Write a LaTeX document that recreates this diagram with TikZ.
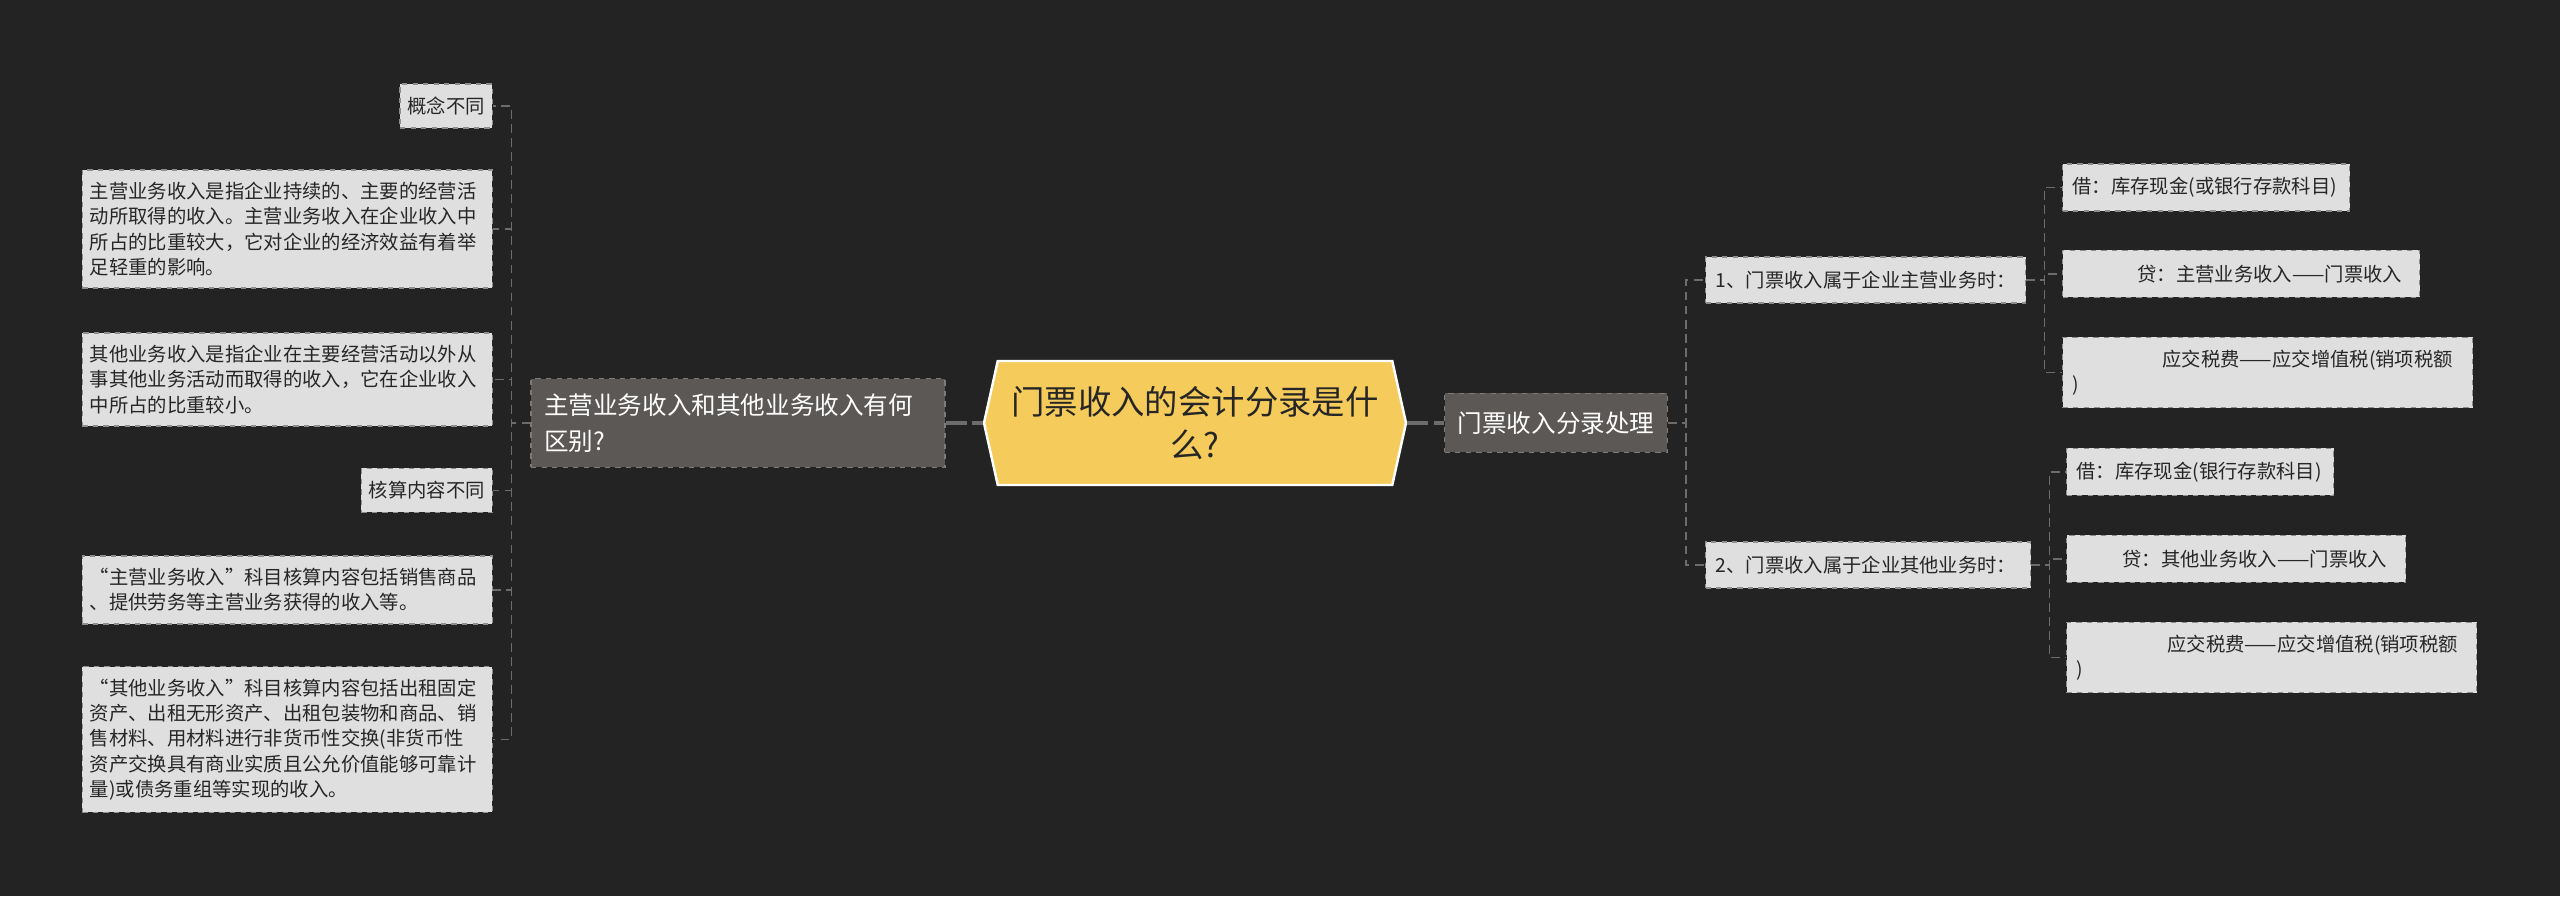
\documentclass[tikz,border=0pt]{standalone}
\usepackage{fontspec}
\setmainfont{Noto Sans CJK SC}
\usepackage{tikz}
\usetikzlibrary{positioning,shapes.symbols}
\definecolor{bgc}{HTML}{232323}
\definecolor{hexc}{HTML}{F5CB5C}
\definecolor{topicc}{HTML}{5B5856}
\definecolor{topicline}{HTML}{7E7B79}
\definecolor{leafc}{HTML}{DFDFDF}
\definecolor{leafline}{HTML}{8E8E8E}
\definecolor{linkc}{HTML}{6C6C6C}

\begin{document}
\begin{tikzpicture}[
  hexa/.style={signal, signal to=east and west, signal pointer angle=155,
    fill=hexc, draw=white, line width=1.4pt, minimum width=8.44cm,
    minimum height=2.48cm, inner sep=0pt, align=center, text=black!85,
    font=\fontsize{19}{24}\selectfont},
  topic/.style={draw=topicline, fill=topicc, dashed, line width=0.7pt,
    text=white, align=left, inner xsep=0.26cm, inner ysep=8.5pt,
    font=\fontsize{14}{20.4}\selectfont},
  leaf/.style={draw=leafline, fill=leafc, dashed, line width=0.7pt,
    text=black!85, align=left, inner xsep=0.15cm, inner ysep=7pt,
    minimum height=0.88cm, font=\fontsize{11}{14.35}\selectfont},
  trunk/.style={linkc, line width=2pt, dash pattern=on 12pt off 3pt},
  twig/.style={linkc, line width=0.8pt, dash pattern=on 5pt off 3pt}
]
  \fill[bgc] (0,0) rectangle (51.2,17.92);

  \node[hexa] (C) at (23.90,9.46) {门票收入的会计分录是什\\么?};
  \node[topic, text width=7.76cm] (L) at (14.76,9.46)
    {主营业务收入和其他业务收入有何\\区别?};
  \node[topic, minimum height=1.18cm] (R) at (31.12,9.46) {门票收入分录处理};

  \node[leaf, anchor=east] (l1) at (9.86,15.80) {概念不同};
  \node[leaf, anchor=east, text width=7.9cm] (l2) at (9.86,13.34)
    {主营业务收入是指企业持续的、主要的经营活\\动所取得的收入。主营业务收入在企业收入中\\所占的比重较大，它对企业的经济效益有着举\\足轻重的影响。};
  \node[leaf, anchor=east, text width=7.9cm] (l3) at (9.86,10.33)
    {其他业务收入是指企业在主要经营活动以外从\\事其他业务活动而取得的收入，它在企业收入\\中所占的比重较小。};
  \node[leaf, anchor=east] (l4) at (9.86,8.11) {核算内容不同};
  \node[leaf, anchor=east, text width=7.9cm] (l5) at (9.86,6.12)
    {“主营业务收入”科目核算内容包括销售商品\\、提供劳务等主营业务获得的收入等。};
  \node[leaf, anchor=east, text width=7.9cm] (l6) at (9.86,3.13)
    {“其他业务收入”科目核算内容包括出租固定\\资产、出租无形资产、出租包装物和商品、销\\售材料、用材料进行非货币性交换(非货币性\\资产交换具有商业实质且公允价值能够可靠计\\量)或债务重组等实现的收入。};

  \node[leaf, anchor=west, text width=6.0cm, inner xsep=0.2cm, minimum height=0.92cm] (n1) at (34.10,12.32)
    {1、门票收入属于企业主营业务时：};
  \node[leaf, anchor=west, text width=6.1cm, inner xsep=0.2cm, minimum height=0.92cm] (n2) at (34.10,6.62)
    {2、门票收入属于企业其他业务时：};

  \node[leaf, anchor=west, text width=5.34cm, inner xsep=0.2cm, minimum height=0.94cm] (a1) at (41.24,14.17)
    {借：库存现金(或银行存款科目)};
  \node[leaf, anchor=west, text width=6.74cm, inner xsep=0.2cm, minimum height=0.94cm] (a2) at (41.24,12.44)
    {\hspace*{1.3cm}贷：主营业务收入——门票收入};
  \node[leaf, anchor=west, text width=7.8cm, inner xsep=0.2cm] (a3) at (41.24,10.47)
    {\hspace*{1.8cm}应交税费——应交增值税(销项税额\\)};
  \node[leaf, anchor=west, text width=4.94cm, inner xsep=0.2cm, minimum height=0.94cm] (b1) at (41.32,8.48)
    {借：库存现金(银行存款科目)};
  \node[leaf, anchor=west, text width=6.38cm, inner xsep=0.2cm, minimum height=0.94cm] (b2) at (41.32,6.74)
    {\hspace*{0.92cm}贷：其他业务收入——门票收入};
  \node[leaf, anchor=west, text width=7.8cm, inner xsep=0.2cm] (b3) at (41.32,4.77)
    {\hspace*{1.82cm}应交税费——应交增值税(销项税额\\)};

  \draw[trunk] (L.east) -- (C.west);
  \draw[trunk] (C.east) -- (R.west);

  \draw[twig] (L.west) -- ++(-0.38,0) |- (l1.east);
  \draw[twig] (L.west) -- ++(-0.38,0) |- (l2.east);
  \draw[twig] (L.west) -- ++(-0.38,0) |- (l3.east);
  \draw[twig] (L.west) -- ++(-0.38,0) |- (l4.east);
  \draw[twig] (L.west) -- ++(-0.38,0) |- (l5.east);
  \draw[twig] (L.west) -- ++(-0.38,0) |- (l6.east);

  \draw[twig] (R.east) -- ++(0.36,0) |- (n1.west);
  \draw[twig] (R.east) -- ++(0.36,0) |- (n2.west);

  \draw[twig] (n1.east) -- ++(0.36,0) |- (a1.west);
  \draw[twig] (n1.east) -- ++(0.36,0) |- (a2.west);
  \draw[twig] (n1.east) -- ++(0.36,0) |- (a3.west);
  \draw[twig] (n2.east) -- ++(0.36,0) |- (b1.west);
  \draw[twig] (n2.east) -- ++(0.36,0) |- (b2.west);
  \draw[twig] (n2.east) -- ++(0.36,0) |- (b3.west);
\end{tikzpicture}
\end{document}
